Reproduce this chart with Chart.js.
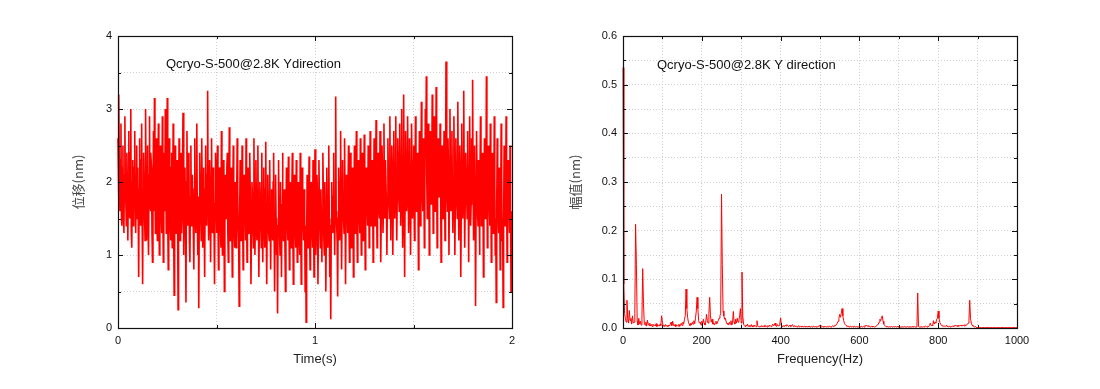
<!DOCTYPE html>
<html>
<head>
<meta charset="utf-8">
<script src="https://cdn.jsdelivr.net/npm/chart.js@4/dist/chart.umd.min.js"></script>
<style>
	body { margin: 0; background: #fff; }
	#wrap { position: relative; width: 1100px; height: 389px; }
	#timeChart { position: absolute; left: 0; top: 0; }
	#fftChart { position: absolute; left: 560px; top: 0; }
</style>
</head>
<body>
<div id="wrap">
	<canvas id="timeChart" width="560" height="389"></canvas>
	<canvas id="fftChart" width="540" height="389"></canvas>
</div>
<script>
// 시간 신호 (2.5 ms 간격, nm) - 한 줄 = 0.1 s
const timeStep = 0.0025;
const displacement = [
	2.6, 1.8, 3.2, 1.9, 1.6, 2.3, 2.8, 1.5, 1.4, 2.2, 2.5, 1.6, 1.3, 2.1, 2.9, 1.8, 1.7, 1.4, 2.4, 2.0, 1.2, 1.9, 2.7, 1.6, 1.5, 2.4, 3.0, 1.3, 1.1, 2.0, 2.3, 1.4, 1.6, 2.2, 2.7, 1.8, 1.3, 2.1, 2.5, 1.5,
	2.2, 1.6, 0.7, 1.9, 2.6, 1.7, 1.4, 2.3, 2.8, 1.5, 0.6, 1.8, 2.4, 2.0, 1.5, 1.2, 3.0, 1.9, 1.2, 2.2, 2.5, 1.4, 1.0, 2.1, 2.9, 1.7, 1.6, 2.4, 2.2, 1.3, 0.9, 1.8, 2.7, 1.6, 3.15, 2.0, 1.3, 1.9, 2.6, 1.4,
	1.2, 2.0, 2.8, 1.5, 1.0, 1.9, 2.5, 2.1, 1.5, 1.3, 2.9, 1.7, 0.9, 2.0, 2.4, 1.6, 3.0, 2.2, 1.3, 1.8, 3.15, 1.5, 0.8, 2.1, 2.6, 1.9, 1.4, 1.2, 2.2, 2.4, 1.1, 1.7, 2.8, 1.4, 0.45, 1.9, 2.5, 2.0, 1.3, 1.6,
	2.3, 1.5, 0.25, 1.8, 2.6, 1.9, 1.2, 2.1, 2.4, 1.3, 1.5, 2.2, 2.95, 1.6, 1.0, 1.9, 2.2, 1.5, 0.35, 2.0, 2.7, 1.7, 1.4, 2.4, 2.3, 1.2, 0.9, 1.8, 2.5, 1.4, 1.6, 2.1, 2.1, 1.3, 0.8, 1.9, 2.6, 1.8, 1.3, 2.0,
	2.8, 1.6, 1.0, 1.8, 0.27, 1.5, 2.4, 2.0, 1.5, 1.2, 2.6, 1.9, 1.1, 1.7, 2.2, 1.4, 0.7, 1.9, 2.5, 1.6, 1.4, 2.1, 3.25, 1.8, 1.2, 1.5, 2.3, 2.0, 0.9, 1.6, 2.6, 1.5, 1.3, 2.2, 2.0, 1.4, 0.6, 1.7, 2.4, 1.9,
	1.3, 1.9, 2.5, 1.5, 0.8, 1.7, 2.2, 2.0, 1.4, 1.1, 2.7, 1.8, 1.0, 1.6, 2.3, 1.9, 0.5, 1.4, 2.1, 1.7, 1.5, 2.2, 2.4, 1.3, 0.9, 1.8, 2.75, 1.6, 1.2, 2.0, 2.2, 1.5, 0.7, 1.6, 2.5, 1.9, 1.3, 1.1, 2.0, 1.6,
	1.1, 1.8, 2.6, 1.9, 1.4, 1.2, 0.3, 1.5, 2.3, 1.8, 1.2, 1.6, 2.5, 1.7, 0.8, 1.4, 2.1, 1.9, 1.5, 1.2, 2.6, 1.6, 0.9, 1.8, 2.2, 1.4, 1.3, 2.0, 2.4, 1.6, 0.6, 1.3, 2.0, 1.8, 1.4, 1.1, 2.6, 1.7, 1.0, 1.5,
	2.3, 1.7, 1.2, 1.9, 2.5, 1.5, 0.7, 1.4, 2.0, 1.8, 1.4, 1.1, 2.4, 1.6, 0.9, 1.7, 2.2, 1.5, 1.1, 1.9, 2.55, 1.4, 0.6, 1.6, 2.1, 1.7, 1.3, 1.2, 2.3, 1.5, 0.8, 1.6, 1.9, 1.4, 1.2, 2.0, 2.4, 1.3, 0.5, 1.5,
	2.1, 1.5, 1.0, 1.3, 0.2, 1.4, 2.3, 1.6, 1.3, 1.0, 2.0, 1.5, 0.7, 1.7, 2.4, 1.4, 1.2, 1.8, 1.9, 1.1, 0.5, 1.5, 2.2, 1.8, 1.4, 1.2, 2.35, 1.5, 0.8, 1.6, 2.0, 1.3, 1.1, 1.9, 2.4, 1.4, 0.6, 1.5, 2.1, 1.7,
	1.3, 1.1, 2.3, 1.6, 0.9, 1.4, 2.0, 1.7, 1.2, 1.0, 2.4, 1.5, 0.6, 1.3, 2.2, 1.8, 1.4, 1.2, 1.9, 1.6, 0.5, 1.4, 0.08, 1.2, 2.1, 1.7, 1.1, 1.5, 2.35, 1.3, 0.8, 1.6, 2.0, 1.4, 1.3, 1.1, 2.3, 1.6, 0.7, 1.5,
	2.45, 1.6, 1.0, 1.3, 2.1, 1.8, 0.6, 1.4, 2.3, 1.7, 1.4, 1.1, 1.9, 1.5, 0.9, 1.6, 2.4, 1.8, 1.2, 1.0, 2.0, 1.6, 0.5, 1.3, 2.2, 1.7, 1.1, 1.4, 2.5, 1.5, 0.7, 1.2, 0.12, 1.4, 2.0, 1.6, 1.3, 1.8, 2.4, 1.5,
	1.0, 1.7, 3.17, 1.6, 1.4, 1.2, 0.43, 1.5, 2.2, 1.9, 1.2, 1.4, 2.7, 1.8, 0.8, 1.6, 2.3, 1.7, 1.5, 1.3, 2.6, 1.8, 0.6, 1.5, 2.1, 1.9, 1.3, 1.6, 2.5, 1.4, 0.9, 1.8, 2.4, 1.6, 1.1, 1.4, 2.2, 1.9, 0.7, 1.6,
	2.5, 1.8, 1.3, 2.0, 2.7, 1.6, 0.9, 1.7, 2.3, 2.0, 1.5, 1.3, 2.6, 1.9, 1.0, 1.6, 2.4, 1.8, 1.2, 1.5, 2.65, 2.0, 0.8, 1.7, 2.2, 1.9, 1.6, 1.4, 2.5, 2.1, 1.1, 1.6, 2.7, 1.8, 1.4, 1.5, 2.3, 2.0, 0.9, 1.7,
	2.6, 2.0, 1.4, 1.9, 2.85, 1.8, 1.1, 1.7, 2.4, 2.1, 1.6, 1.5, 2.7, 2.0, 0.9, 1.8, 2.5, 2.2, 1.3, 1.6, 2.8, 1.9, 1.5, 2.3, 2.3, 1.7, 1.0, 1.8, 2.6, 2.1, 1.7, 1.5, 2.9, 2.0, 1.2, 1.9, 2.5, 2.2, 1.0, 1.8,
	2.7, 2.1, 1.5, 2.0, 2.9, 1.9, 1.2, 1.8, 2.6, 2.3, 1.8, 1.6, 2.8, 2.2, 1.4, 1.9, 3.0, 2.1, 1.1, 1.7, 3.2, 2.0, 0.7, 1.9, 2.7, 2.3, 1.6, 1.8, 2.9, 2.2, 1.3, 1.7, 2.6, 2.1, 1.0, 1.8, 2.8, 2.3, 1.5, 2.0,
	2.5, 2.1, 1.2, 1.8, 2.9, 2.2, 1.6, 1.9, 2.4, 2.0, 0.8, 1.7, 2.7, 2.3, 1.4, 1.9, 3.1, 2.2, 1.8, 1.6, 2.6, 2.1, 1.1, 1.8, 3.0, 2.4, 3.45, 2.0, 1.5, 1.9, 2.8, 2.3, 1.0, 1.7, 2.7, 2.2, 1.7, 2.0, 3.2, 2.1,
	1.3, 1.9, 2.9, 2.2, 1.6, 2.0, 3.3, 2.1, 1.1, 1.7, 2.6, 2.3, 1.8, 1.9, 2.8, 2.0, 0.9, 1.8, 2.5, 2.2, 1.5, 1.9, 2.7, 2.1, 1.2, 1.8, 3.65, 2.3, 1.9, 1.6, 2.6, 2.2, 1.0, 1.9, 3.0, 2.1, 1.6, 2.0, 2.7, 1.8,
	1.3, 2.0, 2.9, 2.2, 1.0, 1.8, 2.6, 2.1, 1.7, 1.5, 3.1, 2.0, 1.2, 1.9, 2.5, 2.2, 0.7, 1.6, 2.8, 2.1, 1.5, 1.8, 3.25, 2.0, 1.1, 1.7, 2.4, 2.1, 1.8, 1.5, 2.7, 2.0, 0.9, 1.8, 2.9, 2.2, 1.4, 1.7, 2.6, 2.0,
	3.4, 2.0, 1.2, 1.7, 2.5, 1.9, 0.3, 1.6, 2.7, 2.1, 1.6, 1.4, 2.3, 1.9, 1.0, 1.7, 2.9, 2.2, 1.4, 1.6, 2.4, 1.9, 0.7, 1.5, 2.6, 2.0, 1.5, 1.8, 3.45, 2.1, 1.1, 1.6, 2.5, 2.0, 1.7, 1.4, 2.8, 2.1, 0.9, 1.7,
	2.4, 1.9, 1.3, 1.6, 2.9, 2.0, 1.0, 1.5, 0.35, 1.7, 2.6, 2.0, 1.5, 1.3, 2.2, 1.8, 0.8, 1.6, 2.8, 2.1, 1.2, 1.5, 0.28, 1.4, 2.5, 1.9, 1.4, 1.6, 2.9, 2.0, 0.9, 1.5, 2.3, 1.8, 1.6, 1.3, 2.5, 1.7, 0.5, 1.2,
	1.6
];

// 주파수 스펙트럼 (2 Hz 간격, nm) - 한 줄 = 40 Hz
const freqStep = 2;
const amplitude = [
	0.535, 0.09, 0.03, 0.02, 0.012, 0.057, 0.02, 0.01, 0.036, 0.015, 0.02, 0.008, 0.025, 0.01, 0.012, 0.03, 0.213, 0.13, 0.015, 0.006,
	0.02, 0.008, 0.014, 0.006, 0.018, 0.122, 0.05, 0.01, 0.006, 0.012, 0.004, 0.016, 0.008, 0.005, 0.01, 0.004, 0.007, 0.003, 0.008, 0.005,
	0.006, 0.004, 0.009, 0.003, 0.007, 0.005, 0.004, 0.008, 0.005, 0.025, 0.012, 0.004, 0.006, 0.003, 0.007, 0.004, 0.005, 0.003, 0.006, 0.004,
	0.008, 0.012, 0.005, 0.014, 0.006, 0.004, 0.007, 0.003, 0.006, 0.005, 0.004, 0.008, 0.003, 0.006, 0.01, 0.005, 0.012, 0.008, 0.018, 0.025,
	0.08, 0.04, 0.022, 0.012, 0.008, 0.005, 0.01, 0.006, 0.012, 0.008, 0.015, 0.009, 0.02, 0.035, 0.063, 0.04, 0.015, 0.01, 0.012, 0.006,
	0.014, 0.008, 0.018, 0.01, 0.006, 0.012, 0.028, 0.015, 0.01, 0.03, 0.063, 0.025, 0.012, 0.018, 0.008, 0.011, 0.006, 0.01, 0.014, 0.008,
	0.012, 0.016, 0.02, 0.025, 0.03, 0.275, 0.13, 0.035, 0.025, 0.018, 0.02, 0.012, 0.008, 0.01, 0.006, 0.012, 0.008, 0.015, 0.006, 0.01,
	0.034, 0.012, 0.008, 0.018, 0.01, 0.02, 0.012, 0.015, 0.025, 0.04, 0.01, 0.115, 0.025, 0.008, 0.005, 0.003, 0.006, 0.004, 0.008, 0.003,
	0.005, 0.003, 0.004, 0.007, 0.002, 0.005, 0.003, 0.006, 0.004, 0.003, 0.015, 0.005, 0.003, 0.002, 0.004, 0.003, 0.005, 0.002, 0.004, 0.003,
	0.006, 0.003, 0.004, 0.002, 0.005, 0.003, 0.006, 0.004, 0.003, 0.005, 0.008, 0.004, 0.006, 0.01, 0.005, 0.003, 0.007, 0.004, 0.005, 0.008,
	0.021, 0.006, 0.004, 0.003, 0.005, 0.003, 0.006, 0.004, 0.007, 0.005, 0.003, 0.004, 0.006, 0.003, 0.005, 0.007, 0.004, 0.003, 0.005, 0.003,
	0.004, 0.002, 0.003, 0.005, 0.002, 0.003, 0.004, 0.002, 0.003, 0.002, 0.004, 0.003, 0.002, 0.003, 0.002, 0.004, 0.002, 0.003, 0.002, 0.003,
	0.002, 0.003, 0.004, 0.002, 0.003, 0.002, 0.003, 0.002, 0.004, 0.003, 0.006, 0.003, 0.002, 0.003, 0.002, 0.004, 0.002, 0.003, 0.002, 0.003,
	0.003, 0.002, 0.004, 0.003, 0.002, 0.003, 0.005, 0.003, 0.004, 0.006, 0.005, 0.008, 0.01, 0.014, 0.02, 0.028, 0.022, 0.03, 0.04, 0.025,
	0.015, 0.01, 0.007, 0.005, 0.004, 0.003, 0.004, 0.002, 0.003, 0.004, 0.002, 0.003, 0.002, 0.004, 0.003, 0.002, 0.003, 0.002, 0.003, 0.002,
	0.003, 0.002, 0.004, 0.003, 0.002, 0.003, 0.002, 0.005, 0.004, 0.006, 0.004, 0.003, 0.005, 0.003, 0.002, 0.003, 0.004, 0.002, 0.003, 0.002,
	0.003, 0.004, 0.005, 0.006, 0.008, 0.012, 0.018, 0.015, 0.02, 0.025, 0.014, 0.008, 0.005, 0.004, 0.003, 0.002, 0.003, 0.002, 0.003, 0.002,
	0.002, 0.003, 0.002, 0.003, 0.002, 0.002, 0.003, 0.002, 0.002, 0.004, 0.002, 0.003, 0.002, 0.002, 0.003, 0.002, 0.002, 0.003, 0.002, 0.002,
	0.002, 0.003, 0.002, 0.002, 0.003, 0.002, 0.002, 0.003, 0.002, 0.002, 0.003, 0.002, 0.002, 0.003, 0.072, 0.003, 0.002, 0.002, 0.003, 0.002,
	0.002, 0.003, 0.002, 0.003, 0.004, 0.003, 0.002, 0.004, 0.003, 0.005, 0.01, 0.005, 0.006, 0.004, 0.015, 0.008, 0.012, 0.01, 0.018, 0.02,
	0.035, 0.02, 0.012, 0.008, 0.006, 0.004, 0.005, 0.003, 0.004, 0.003, 0.005, 0.004, 0.003, 0.002, 0.004, 0.003, 0.002, 0.003, 0.004, 0.003,
	0.005, 0.004, 0.006, 0.004, 0.005, 0.003, 0.006, 0.004, 0.005, 0.006, 0.004, 0.005, 0.006, 0.004, 0.007, 0.005, 0.006, 0.008, 0.01, 0.015,
	0.057, 0.02, 0.01, 0.006, 0.004, 0.003, 0.002, 0.003, 0.002, 0.001, 0.001, 0.001, 0.001, 0.001, 0.001, 0.001, 0.001, 0.001, 0.001, 0.001,
	0.001, 0.001, 0.001, 0.001, 0.001, 0.001, 0.001, 0.001, 0.001, 0.001, 0.001, 0.001, 0.001, 0.001, 0.001, 0.001, 0.001, 0.001, 0.001, 0.001,
	0.001, 0.001, 0.001, 0.001, 0.001, 0.001, 0.001, 0.001, 0.001, 0.001, 0.001, 0.001, 0.001, 0.001, 0.001, 0.001, 0.001, 0.001, 0.001, 0.001,
	0.001
];

// 눈금 라벨
const timeLabels = [0, 1, 2];
const dispLabels = [0, 1, 2, 3, 4];
const freqLabels = [0, 200, 400, 600, 800, 1000];
const ampLabels = [0, 0.1, 0.2, 0.3, 0.4, 0.5, 0.6];

const noteLeft = 'Qcryo-S-500@2.8K Ydirection';
const noteRight = 'Qcryo-S-500@2.8K Y direction';

const tickFont = { family: "'Liberation Sans', Arial, sans-serif", size: 11 };
const titleFont = { family: "'Liberation Sans', 'Noto Sans CJK SC', sans-serif", size: 13 };
const cjkFont = { family: "'Noto Sans CJK SC', sans-serif", size: 13 };

// 테두리 + 안쪽 눈금 + 주석
const frameTicks = {
	id: 'frameTicks',
	afterDraw(chart, args, opts) {
		const ctx = chart.ctx;
		const a = chart.chartArea;
		const sx = chart.scales.x;
		const sy = chart.scales.y;
		ctx.save();
		ctx.strokeStyle = '#111';
		ctx.lineWidth = 1;
		ctx.beginPath();
		sx.ticks.forEach(t => {
			let px = Math.round(sx.getPixelForValue(t.value)) + 0.5;
			let len = t.label === '' ? 3 : 5;
			ctx.moveTo(px, a.bottom); ctx.lineTo(px, a.bottom - len);
			ctx.moveTo(px, a.top); ctx.lineTo(px, a.top + len);
		});
		sy.ticks.forEach(t => {
			let py = Math.round(sy.getPixelForValue(t.value)) + 0.5;
			let len = t.label === '' ? 3 : 5;
			ctx.moveTo(a.left, py); ctx.lineTo(a.left + len, py);
			ctx.moveTo(a.right, py); ctx.lineTo(a.right - len, py);
		});
		ctx.stroke();
		ctx.lineWidth = 1.2;
		ctx.strokeRect(Math.round(a.left) + 0.5, Math.round(a.top) + 0.5, Math.round(a.width), Math.round(a.height));
		ctx.fillStyle = '#111';
		ctx.font = "13px 'Liberation Sans', Arial, sans-serif";
		ctx.textBaseline = 'middle';
		ctx.fillText(opts.text, a.left + opts.dx, a.top + opts.dy);
		ctx.restore();
	}
};

function makeChart(id, points, lineWidth, xOpts, yOpts, pad, note) {
	return new Chart(document.getElementById(id), {
		type: 'line',
		data: {
			datasets: [{
				data: points,
				borderColor: '#ff0000',
				borderWidth: lineWidth,
				pointRadius: 0,
				tension: 0,
				fill: false,
				clip: 2
			}]
		},
		options: {
			responsive: false,
			animation: false,
			events: [],
			layout: { padding: pad },
			plugins: {
				legend: { display: false },
				tooltip: { enabled: false },
				frameTicks: note
			},
			scales: {
				x: Object.assign({
					type: 'linear',
					grid: { color: '#cfcfcf', drawTicks: false },
					border: { display: false, dash: [1, 2] },
					afterFit: s => { s.height = 43; }
				}, xOpts),
				y: Object.assign({
					type: 'linear',
					grid: { color: '#cfcfcf', drawTicks: false },
					border: { display: false, dash: [1, 2] }
				}, yOpts)
			}
		},
		plugins: [frameTicks]
	});
}

window.addEventListener("load", function() {
	let timePoints = displacement.map((v, i) => ({ x: i * timeStep, y: v }));
	makeChart('timeChart', timePoints, 1.6,
		{
			min: 0, max: 2,
			ticks: { stepSize: 0.5, autoSkip: false, maxRotation: 0, padding: 6, color: '#111', font: tickFont,
				callback: v => timeLabels.includes(v) ? String(v) : '' },
			title: { display: true, text: 'Time(s)', color: '#222', font: titleFont, padding: { top: 4, bottom: 4 } }
		},
		{
			min: 0, max: 4,
			ticks: { stepSize: 0.5, autoSkip: false, padding: 6, color: '#111', font: tickFont,
				callback: v => dispLabels.includes(v) ? String(v) : '' },
			title: { display: true, text: '位移(nm)', color: '#444', font: cjkFont, padding: { top: 4, bottom: 4 } },
			afterFit: s => { s.width = 52; }
		},
		{ left: 66, right: 48, top: 36, bottom: 18 },
		{ text: noteLeft, dx: 48, dy: 28 }
	);

	let fftPoints = amplitude.map((v, i) => ({ x: i * freqStep, y: v }));
	makeChart('fftChart', fftPoints, 1,
		{
			min: 0, max: 1000,
			ticks: { stepSize: 100, autoSkip: false, maxRotation: 0, padding: 6, color: '#111', font: tickFont,
				callback: v => freqLabels.includes(v) ? String(v) : '' },
			title: { display: true, text: 'Frequency(Hz)', color: '#222', font: titleFont, padding: { top: 4, bottom: 4 } }
		},
		{
			min: 0, max: 0.6,
			ticks: { stepSize: 0.05, autoSkip: false, padding: 6, color: '#111', font: tickFont,
				callback: v => {
					let r = Math.round(v * 100) / 100;
					return ampLabels.includes(r) ? r.toFixed(1) : '';
				} },
			title: { display: true, text: '幅值(nm)', color: '#444', font: cjkFont, padding: { top: 4, bottom: 4 } },
			afterFit: s => { s.width = 60; }
		},
		{ left: 3, right: 83, top: 36, bottom: 18 },
		{ text: noteRight, dx: 34, dy: 29 }
	);
});
</script>
</body>
</html>
